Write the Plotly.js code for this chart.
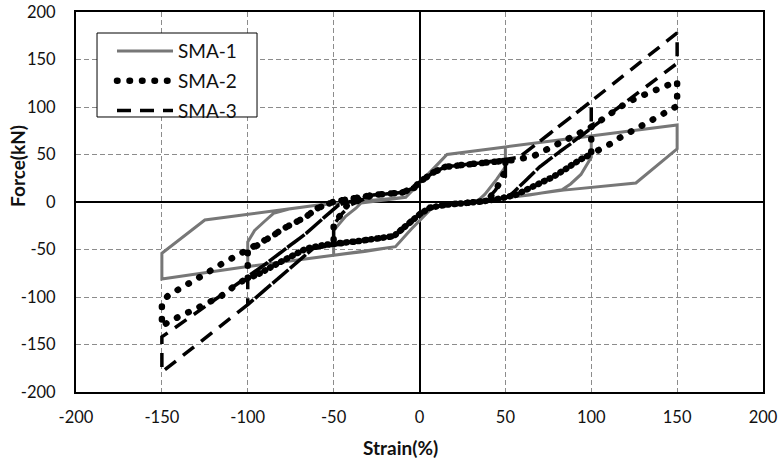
<!DOCTYPE html>
<html>
<head>
<meta charset="utf-8">
<script src="https://cdn.plot.ly/plotly-3.0.1.min.js"></script>
<style>
html,body{margin:0;padding:0;background:#fff;}
#chart{width:782px;height:462px;}
</style>
</head>
<body>
<div id="chart"></div>
<script>
// ---- Data ----
const seriesNames = ["SMA-1", "SMA-2", "SMA-3"];

const sma1Strain = [-8, 5, 16, 33, 50, 50, 45, 38, 34, 15, 8, -5, -14, -32, -50, -50, -43, -37, -34, -8,
  5, 16, 50, 100, 100, 97, 94, 88, 83, 64, 38, 15, 8, -5, -14, -50, -100, -100, -96, -90, -85, -76, -60, -39, -8,
  5, 16, 50, 100, 150, 150, 126, 84, 64, 38, 15, 8, -5, -14, -50, -100, -150, -150, -125, -76, -60, -39, -8, 5];
const sma1Force = [5, 29, 50, 54, 58, 37, 24, 8, 1.5, -3, -5, -29, -47, -52, -56, -30, -15, -6.5, -1, 5,
  29, 50, 58, 69.5, 47, 38, 29, 19, 13, 7.4, 1.5, -3, -5, -29, -47, -56, -68, -42, -30, -20, -12, -7.5, -3.5, 0, 5,
  29, 50, 58, 69.5, 81, 56, 20, 12.5, 7.4, 1.5, -3, -5, -29, -47, -56, -68, -81, -54, -19, -7.5, -3.5, 0, 5, 29];

const sma2Strain = [-10, -3, 0, 8, 15, 35, 50, 50, 47, 44, 40, 36, 15, 6, 0, -8, -15, -35, -50, -50, -45, -42, -27, -10,
  -3, 0, 8, 15, 35, 54, 66, 72, 79, 85, 92, 100, 100, 93, 88, 83, 78, 72, 66, 56, 45, 36, 15, 6, 0, -8, -15, -35, -55, -66, -74, -85, -95, -100, -100, -93, -85, -79, -72, -66, -60, -54, -50, -27, -10,
  -3, 0, 8, 15, 35, 54, 66, 72, 79, 85, 92, 100, 111, 121, 131, 141, 150, 150, 139, 134, 128, 122, 116, 111, 105, 100, 93, 88, 83, 78, 72, 66, 56, 45, 36, 15, 6, 0, -8, -15, -35, -55, -66, -74, -85, -95, -100, -107, -112, -116, -122, -128, -134, -140, -146, -150, -150, -146, -137, -126, -116, -106, -100, -93, -85, -79, -72, -66, -60, -54, -50, -27, -10, -3, 0];
const sma2Force = [10, 15, 21, 31, 37, 41, 43.5, 33, 22, 11, 3, 0.5, -3, -6, -13, -26, -36, -41, -44.5, -24, -10, -3, 7.4, 10,
  15, 21, 31, 37, 41, 44, 48, 53, 59, 65, 71.5, 79, 51, 44, 38, 32, 26.6, 21.4, 16, 7.4, 3, 0.5, -3, -6, -13, -26, -36, -41, -45, -49, -56, -67, -77, -80, -52, -43.5, -35, -27.7, -21, -15.5, -7, -3, 0.3, 7.4, 10,
  15, 21, 31, 37, 41, 44, 48, 53, 59, 65, 71.5, 79, 92, 105, 113, 121, 127, 101, 90, 84.5, 79, 74, 67, 61, 55.5, 51, 44, 38, 32, 26.6, 21.4, 16, 7.4, 3, 0.5, -3, -6, -13, -26, -36, -41, -45, -49, -56, -67, -77, -80, -87.4, -94.4, -99.7, -105, -110, -115.5, -120.7, -126, -131, -105, -98, -89, -77, -66, -56, -51, -43.5, -35, -27.7, -21, -15.5, -7, -3, 0.3, 7.4, 10, 15, 21];

const sma3Strain = [-10, -3, 0, 8, 15, 35, 50, 50, 44, 40, 36, 15, 6, 0, -8, -15, -35, -50, -50, -45, -40, -27, -10,
  -3, 0, 8, 15, 35, 58, 100, 100, 91, 81.5, 70, 62, 54, 50, 36, 15, 6, 0, -8, -15, -35, -62, -100, -100, -89, -77.6, -66, -56, -47, -27, -10,
  -3, 0, 8, 15, 35, 58, 100, 150, 150, 100, 91, 81.5, 70, 62, 54, 50, 36, 15, 6, 0, -8, -15, -35, -62, -100, -150, -150, -100, -89, -77.6, -66, -56, -47, -27, -10, -3, 0];
const sma3Force = [10, 15, 21, 31, 37, 41, 44, 27, 12, 4, 1, -3, -6, -13, -26, -36, -41, -45, -24, -12, -3, 7.4, 10,
  15, 21, 31, 37, 41, 47, 106, 78, 65, 53, 37, 23, 9, 4, 1, -3, -6, -13, -26, -36, -41, -49, -108, -79, -64.5, -48.7, -33, -17, -3, 7.4, 10,
  15, 21, 31, 37, 41, 47, 106, 178, 146, 78, 65, 53, 37, 23, 9, 4, 1, -3, -6, -13, -26, -36, -41, -49, -108, -179, -142, -79, -64.5, -48.7, -33, -17, -3, 7.4, 10, 15, 21];

const axisTicks = [-200, -150, -100, -50, 0, 50, 100, 150, 200];
const xTitle = "Strain(%)";
const yTitle = "Force(kN)";

// ---- Chart ----
const FONT = "Lato, 'Open Sans', sans-serif";

const traces = [
  {x: sma1Strain, y: sma1Force, name: seriesNames[0], uid: "sma1", legendgroup: "g1", mode: "lines",
   line: {color: "#777777", width: 3, shape: "linear"}},
  {x: sma2Strain, y: sma2Force, name: seriesNames[1], uid: "sma2", legendgroup: "g2", mode: "lines",
   line: {color: "#000000", width: 6.5, dash: "0.5px,12px"}},
  {x: sma3Strain, y: sma3Force, name: seriesNames[2], uid: "sma3", legendgroup: "g3", mode: "lines",
   line: {color: "#000000", width: 3.5, dash: "14px,9px"}}
];

const axisCommon = {
  range: [-200, 200],
  tickvals: axisTicks,
  ticktext: axisTicks.map(String),
  showgrid: true,
  gridcolor: "#8c8c8c",
  gridwidth: 1,
  griddash: "5px,3px",
  zeroline: true,
  zerolinecolor: "#000000",
  zerolinewidth: 2,
  showline: true,
  linecolor: "#000000",
  linewidth: 2,
  mirror: true,
  ticks: "outside",
  tickcolor: "rgba(0,0,0,0)",
  tickfont: {family: FONT, size: 16.5, color: "#111111"},
  fixedrange: true
};

const layout = {
  width: 782,
  height: 462,
  margin: {l: 76, r: 19, t: 12, b: 70, pad: 0},
  paper_bgcolor: "#ffffff",
  plot_bgcolor: "#ffffff",
  font: {family: FONT, color: "#111111"},
  showlegend: true,
  xaxis: Object.assign({}, axisCommon, {ticklen: 9}),
  yaxis: Object.assign({}, axisCommon, {ticklen: 15}),
  legend: {
    x: 0.0524, y: 0.947, xanchor: "left", yanchor: "top",
    bgcolor: "rgba(0,0,0,0)",
    borderwidth: 0,
    font: {family: FONT, size: 19, color: "#111111"},
    itemwidth: 56,
    traceorder: "grouped",
    tracegroupgap: 2
  },
  shapes: [
    {type: "rect", xref: "paper", yref: "paper", x0: 0.0306, x1: 0.2635, y0: 0.7237, y1: 0.9447,
     line: {color: "#000000", width: 1}, fillcolor: "#ffffff", layer: "above"}
  ],
  annotations: [
    {text: "<b>" + xTitle + "</b>", xref: "paper", yref: "paper", x: 0.473, y: -0.146,
     xanchor: "center", yanchor: "middle", showarrow: false,
     font: {family: FONT, size: 19, color: "#111111"}},
    {text: "<b>" + yTitle + "</b>", xref: "paper", yref: "paper", x: -0.0844, y: 0.595,
     xanchor: "center", yanchor: "middle", showarrow: false, textangle: -90,
     font: {family: FONT, size: 19, color: "#111111"}}
  ]
};

Plotly.newPlot("chart", traces, layout, {displayModeBar: false, staticPlot: true}).then(function () {
  document.querySelectorAll("path.js-line").forEach(function (p) {
    const d = p.style.strokeDasharray || "";
    if (d.indexOf("0.5px") === 0) {
      p.style.strokeLinecap = "round";
    }
  });
});
</script>
</body>
</html>
